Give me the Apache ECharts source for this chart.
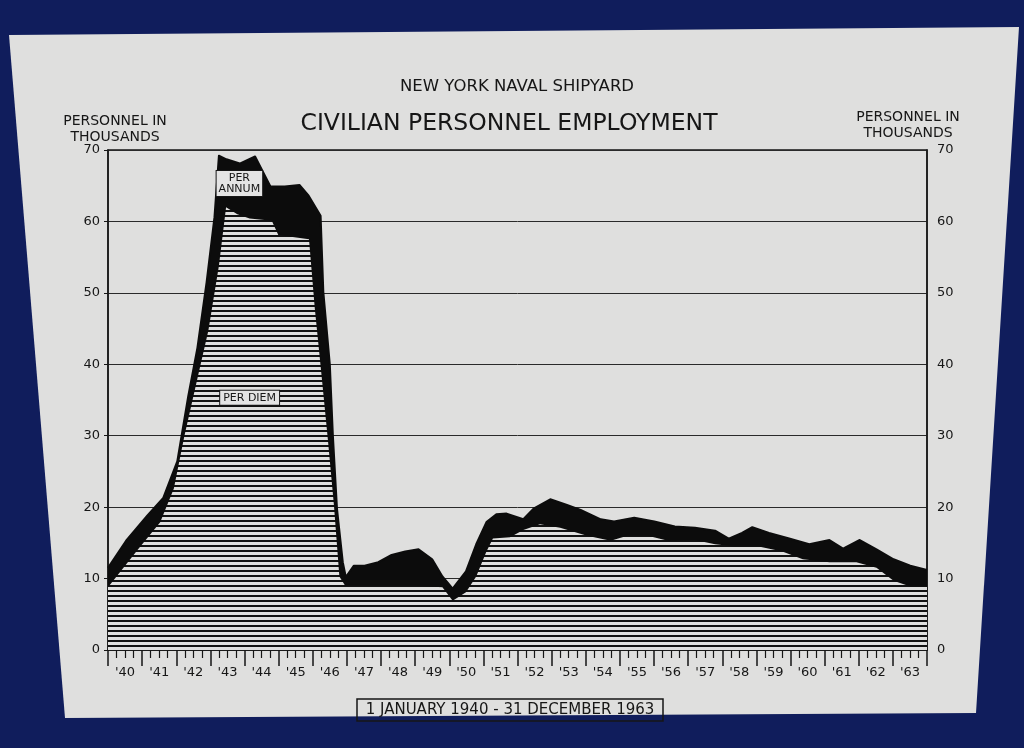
<!DOCTYPE html>
<html>
<head>
<meta charset="utf-8">
<script src="https://cdn.jsdelivr.net/npm/echarts@6/dist/echarts.min.js"></script>
<style>
html,body{margin:0;padding:0;background:#101d5c;}
#chart{width:1024px;height:748px;}
</style>
</head>
<body>
<div id="chart"></div>
<script>
// ---- DATA ----
// Year-label categories on the bottom ruler
const yearLabels = ["'40","'41","'42","'43","'44","'45","'46","'47","'48","'49","'50","'51","'52","'53","'54","'55","'56","'57","'58","'59","'60","'61","'62","'63"];
// Y-axis tick values (thousands)
const yTicks = [0, 10, 20, 30, 40, 50, 60, 70];

// Total personnel (top of black "per annum" band), thousands
const totalYears = [1940.0,1940.53,1941.15,1941.62,1942.03,1942.35,1942.62,1942.89,1943.12,1943.25,1943.47,1943.86,1944.31,1944.76,1945.18,1945.61,1945.88,1946.23,1946.31,1946.5,1946.59,1946.71,1946.88,1946.97,1947.2,1947.52,1947.92,1948.31,1948.71,1949.1,1949.5,1949.8,1950.1,1950.49,1950.79,1951.09,1951.38,1951.68,1952.17,1952.47,1952.96,1953.45,1953.85,1954.44,1954.83,1955.42,1956.01,1956.61,1957.2,1957.79,1958.19,1958.58,1958.88,1959.37,1959.96,1960.55,1961.14,1961.54,1962.03,1962.52,1963.02,1963.51,1964.0];
const totalValues = [11.5,15.3,18.8,21.3,26.4,35.5,42.3,51.5,60.6,69.2,68.7,68.1,69.1,64.9,64.9,65.1,63.6,60.8,50.1,40.0,30.0,19.8,12.3,10.2,11.8,11.8,12.3,13.3,13.8,14.1,12.7,10.3,8.6,11.0,14.8,17.9,19.0,19.1,18.3,19.8,21.1,20.3,19.6,18.3,18.0,18.5,18.0,17.3,17.1,16.7,15.6,16.4,17.2,16.4,15.6,14.8,15.4,14.2,15.4,14.1,12.7,11.8,11.2];

// Per diem personnel (top of hatched area), thousands
const perDiemYears = [1940.0,1940.9,1941.53,1941.93,1942.24,1942.61,1942.94,1943.25,1943.46,1943.79,1944.15,1944.8,1944.99,1945.89,1946.06,1946.25,1946.44,1946.62,1946.78,1946.95,1948.0,1949.0,1949.8,1950.1,1950.49,1950.79,1951.09,1951.28,1951.78,1952.17,1952.66,1953.25,1954.04,1954.73,1955.22,1955.82,1956.41,1957.2,1957.79,1958.38,1959.07,1959.76,1960.36,1961.14,1961.93,1962.52,1963.02,1963.51,1964.0];
const perDiemValues = [8.8,14.2,17.9,22.6,30.0,37.8,44.7,53.8,62.0,61.0,60.4,60.1,58.1,57.5,47.8,38.8,29.6,20.3,10.3,9.0,9.0,9.0,8.8,6.9,8.1,10.3,13.8,15.6,15.8,16.8,17.6,17.1,16.0,15.3,16.0,16.0,15.3,15.4,14.8,14.5,14.5,13.8,12.7,12.3,12.3,11.5,9.7,8.9,8.9];

// ---- build ----
const totalData = totalYears.map((y, i) => [y, totalValues[i]]);
const perDiemData = perDiemYears.map((y, i) => [y, perDiemValues[i]]);

// horizontal hatch pattern
const pat = document.createElement('canvas');
pat.width = 8; pat.height = 5;
const pc = pat.getContext('2d');
pc.fillStyle = '#e0e0df'; pc.fillRect(0, 0, 8, 5);
pc.fillStyle = '#121212'; pc.fillRect(0, 0, 8, 2);

const INK = '#161616';
const FONT = '"DejaVu Sans", "Liberation Sans", sans-serif';

const chart = echarts.init(document.getElementById('chart'));
chart.setOption({
  backgroundColor: '#101d5c',
  animation: false,
  grid: { left: 108, right: 97, top: 150, bottom: 98, show: true, borderColor: INK, borderWidth: 1.5, backgroundColor: 'transparent' },
  graphic: [
    { type: 'polygon', z: -100, silent: true, shape: { points: [[9,35],[1019,27],[976,713],[65,718]] }, style: { fill: '#dfdfde' } },
    { type: 'text', x: 517, y: 87, style: { text: 'NEW YORK NAVAL SHIPYARD', fill: INK, font: '16.5px ' + FONT, align: 'center', verticalAlign: 'middle' } },
    { type: 'text', x: 509, y: 124, style: { text: 'CIVILIAN PERSONNEL EMPLOYMENT', fill: INK, font: '23.5px ' + FONT, align: 'center', verticalAlign: 'middle' } },
    { type: 'text', x: 115, y: 129, style: { text: 'PERSONNEL IN\nTHOUSANDS', fill: INK, font: '14px ' + FONT, lineHeight: 16, align: 'center', verticalAlign: 'middle' } },
    { type: 'text', x: 908, y: 125, style: { text: 'PERSONNEL IN\nTHOUSANDS', fill: INK, font: '14px ' + FONT, lineHeight: 16, align: 'center', verticalAlign: 'middle' } },
    { type: 'rect', shape: { x: 357, y: 699, width: 306, height: 22 }, style: { fill: 'none', stroke: INK, lineWidth: 1.5 } },
    { type: 'text', x: 510, y: 710, style: { text: '1 JANUARY 1940 - 31 DECEMBER 1963', fill: INK, font: '15px ' + FONT, align: 'center', verticalAlign: 'middle' } }
  ],
  xAxis: [
    {
      type: 'value', min: 1940, max: 1964, interval: 1, position: 'bottom',
      axisLine: { show: true, lineStyle: { color: INK, width: 1.5 } },
      axisTick: { show: true, length: 16, lineStyle: { color: INK, width: 1.5 } },
      minorTick: { show: true, splitNumber: 4, length: 8, lineStyle: { color: INK, width: 1.2 } },
      axisLabel: { show: false },
      splitLine: { show: false }
    },
    {
      type: 'category', data: yearLabels, boundaryGap: true, position: 'bottom',
      axisLine: { show: false }, axisTick: { show: false },
      axisLabel: { margin: 16, color: INK, fontSize: 13, fontFamily: FONT },
      splitLine: { show: false }
    }
  ],
  yAxis: [
    {
      type: 'value', min: yTicks[0], max: yTicks[yTicks.length - 1], interval: 10, position: 'left',
      axisLine: { show: true, lineStyle: { color: INK, width: 1.5 } },
      axisTick: { show: true, length: 4, lineStyle: { color: INK } },
      axisLabel: { margin: 8, color: INK, fontSize: 13, fontFamily: FONT },
      splitLine: { show: true, lineStyle: { color: '#2a2a2a', width: 1 } }
    },
    {
      type: 'value', min: yTicks[0], max: yTicks[yTicks.length - 1], interval: 10, position: 'right',
      axisLine: { show: true, lineStyle: { color: INK, width: 1.5 } },
      axisTick: { show: false },
      axisLabel: { margin: 10, color: INK, fontSize: 13, fontFamily: FONT },
      splitLine: { show: false }
    }
  ],
  series: [
    {
      name: 'Per annum (total)', type: 'line', xAxisIndex: 0, yAxisIndex: 0,
      data: totalData, showSymbol: false, smooth: false, z: 2,
      lineStyle: { color: '#0c0c0c', width: 2, join: 'round' },
      areaStyle: { color: '#0c0c0c', opacity: 1 },
      markPoint: {
        symbol: 'circle', symbolSize: 0,
        data: [{ coord: [1943.85, 65.3], value: 'PER\nANNUM' }],
        label: { show: true, position: 'inside', formatter: 'PER\nANNUM', color: INK, fontSize: 11, lineHeight: 11, fontFamily: FONT, backgroundColor: '#e4e4e4', borderColor: INK, borderWidth: 1, padding: [2, 2, 1, 2] }
      }
    },
    {
      name: 'Per diem', type: 'line', xAxisIndex: 0, yAxisIndex: 0,
      data: perDiemData, showSymbol: false, smooth: false, z: 3,
      lineStyle: { width: 0 },
      areaStyle: { color: { image: pat, repeat: 'repeat' }, opacity: 1 },
      markPoint: {
        symbol: 'circle', symbolSize: 0,
        data: [{ coord: [1944.15, 35.3], value: 'PER DIEM' }],
        label: { show: true, position: 'inside', formatter: 'PER DIEM', color: INK, fontSize: 11, fontFamily: FONT, backgroundColor: '#e4e4e4', borderColor: INK, borderWidth: 1, padding: [2, 3, 1, 3] }
      }
    }
  ]
});
</script>
</body>
</html>
